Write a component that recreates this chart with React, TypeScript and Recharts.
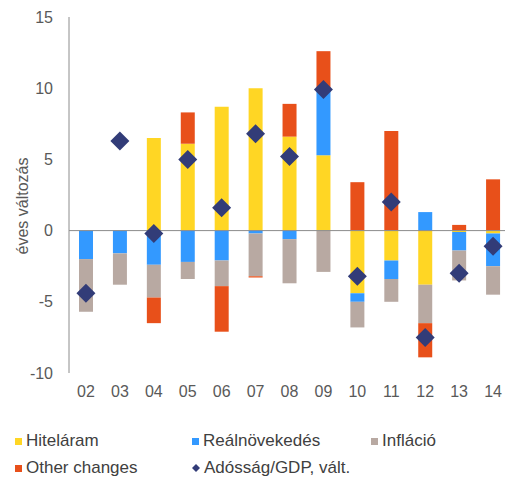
import React from "react";
import { Bar, ComposedChart, Line, ReferenceLine, XAxis, YAxis } from "recharts";

const years = ["02", "03", "04", "05", "06", "07", "08", "09", "10", "11", "12", "13", "14"];
const hitelaram = [0, 0, 6.5, 6.1, 8.7, 10.0, 6.6, 5.3, -4.4, -2.1, -3.8, -0.1, -0.2];
const realnovekedes = [-2.0, -1.6, -2.4, -2.2, -2.1, -0.2, -0.6, 4.7, -0.6, -1.3, 1.3, -1.3, -2.3];
const inflacio = [-3.7, -2.2, -2.3, -1.2, -1.8, -3.0, -3.1, -2.9, -1.8, -1.6, -2.7, -2.1, -2.0];
const otherChanges = [0, 0, -1.8, 2.2, -3.2, -0.1, 2.3, 2.6, 3.4, 7.0, -2.4, 0.4, 3.6];
const adossagGdp = [-4.4, 6.3, -0.2, 5.0, 1.6, 6.8, 5.2, 9.9, -3.2, 2.0, -7.5, -3.0, -1.1];
const yTicks = [-10, -5, 0, 5, 10, 15];

const COLORS = {
  hitel: "#FFD624",
  real: "#3399FF",
  infl: "#B8A9A2",
  other: "#E8501A",
  debt: "#323C78",
};

const data = years.map((y, i) => ({
  year: y,
  hitel: hitelaram[i],
  real: realnovekedes[i],
  infl: inflacio[i],
  other: otherChanges[i],
  debt: adossagGdp[i],
}));

const FONT = "'Liberation Sans', Arial, sans-serif";

const Diamond = (props: any) => {
  const { cx, cy, index } = props;
  if (cx == null || cy == null) return null;
  const r = 9.5;
  return (
    <polygon
      key={`d-${index}`}
      points={`${cx},${cy - r} ${cx + r},${cy} ${cx},${cy + r} ${cx - r},${cy}`}
      fill={COLORS.debt}
    />
  );
};

const legendRows = [
  [
    { label: "Hiteláram", color: COLORS.hitel, left: 15 },
    { label: "Reálnövekedés", color: COLORS.real, left: 192 },
    { label: "Infláció", color: COLORS.infl, left: 371 },
  ],
  [
    { label: "Other changes", color: COLORS.other, left: 15 },
    { label: "Adósság/GDP, vált.", color: COLORS.debt, left: 192, diamond: true },
  ],
];

export default function App() {
  return (
    <div
      style={{
        position: "absolute",
        left: 0,
        top: 0,
        width: 505,
        height: 477,
        overflow: "hidden",
        background: "#fff",
        fontFamily: FONT,
      }}
    >
      <ComposedChart
        width={512}
        height={477}
        data={data}
        stackOffset="sign"
        margin={{ top: 17, right: 2, bottom: 74, left: 0 }}
      >
        <XAxis
          dataKey="year"
          axisLine={false}
          tickLine={false}
          tickSize={0}
          tickMargin={13}
          height={30}
          interval={0}
          tick={{ fill: "#595959", fontSize: 16, fontFamily: FONT }}
        />
        <YAxis
          domain={[-10, 15]}
          ticks={yTicks}
          width={69}
          tickLine={false}
          tickSize={0}
          tickMargin={16}
          axisLine={{ stroke: "#8C8C8C" }}
          tick={{ fill: "#595959", fontSize: 16, fontFamily: FONT }}
          label={{
            content: ({ viewBox }: any) => (
              <text
                x={22}
                y={206}
                transform="rotate(-90 22 206)"
                textAnchor="middle"
                dominantBaseline="central"
                fill="#595959"
                fontSize={16}
                fontFamily={FONT}
              >
                éves változás
              </text>
            ),
          }}
        />
        <ReferenceLine y={0} stroke="#8C8C8C" strokeWidth={1} />
        <Bar dataKey="hitel" stackId="a" fill={COLORS.hitel} barSize={14} isAnimationActive={false} />
        <Bar dataKey="real" stackId="a" fill={COLORS.real} barSize={14} isAnimationActive={false} />
        <Bar dataKey="infl" stackId="a" fill={COLORS.infl} barSize={14} isAnimationActive={false} />
        <Bar dataKey="other" stackId="a" fill={COLORS.other} barSize={14} isAnimationActive={false} />
        <Line
          dataKey="debt"
          stroke="none"
          dot={Diamond}
          activeDot={false}
          isAnimationActive={false}
        />
      </ComposedChart>

      {legendRows.map((row, r) =>
        row.map((item) => (
          <div
            key={item.label}
            style={{
              position: "absolute",
              left: item.left,
              top: r === 0 ? 430 : 457,
              height: 22,
              display: "flex",
              alignItems: "center",
              fontSize: 17,
              color: "#404040",
              whiteSpace: "nowrap",
            }}
          >
            {item.diamond ? (
              <svg width={8} height={8} style={{ marginRight: 4 }}>
                <polygon points="4,0 8,4 4,8 0,4" fill={item.color} />
              </svg>
            ) : (
              <span
                style={{
                  display: "inline-block",
                  width: 7,
                  height: 7,
                  background: item.color,
                  marginRight: 4,
                }}
              />
            )}
            {item.label}
          </div>
        ))
      )}
    </div>
  );
}
